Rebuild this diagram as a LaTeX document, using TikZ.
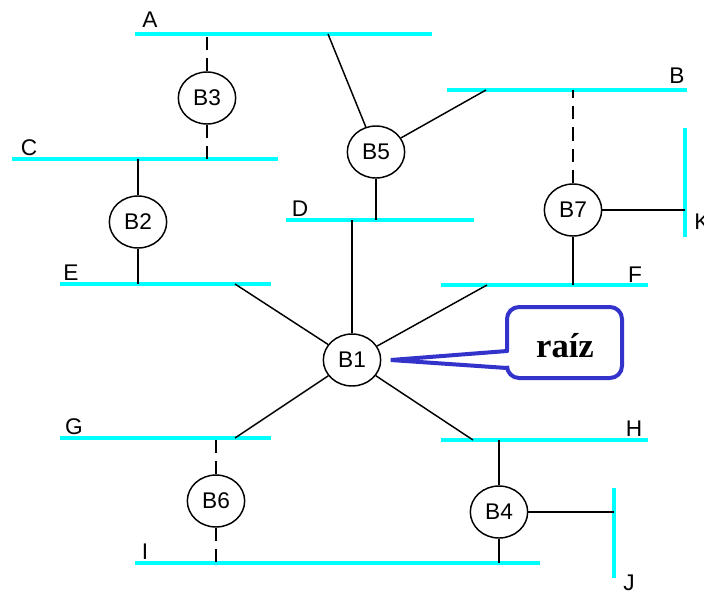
\documentclass[tikz,border=0pt]{standalone}
\usepackage{fontspec}
\setmainfont{Liberation Sans}
\newfontfamily\rootfont{Liberation Serif}
\usetikzlibrary{shapes.geometric}

\definecolor{lancyan}{RGB}{0,255,255}
\definecolor{tagblue}{RGB}{51,51,204}

\tikzset{
	lan/.style={draw=lancyan,line width=3.2pt},
	lanname/.style={anchor=base,inner sep=0pt,font=\fontsize{17}{19}\selectfont},
	bridge/.style={draw,ellipse,line width=1.1pt,minimum width=43pt,minimum height=39pt,
		inner sep=0pt,font=\fontsize{17}{19}\selectfont},
	port/.style={line width=1.1pt},
	blocked/.style={port,dash pattern=on 10pt off 6pt},
	tag/.style={draw=tagblue,line width=3pt,line cap=round},
}

\begin{document}
\begin{tikzpicture}[x=0.75pt,y=-0.75pt]
	\useasboundingbox (0,0) rectangle (704,593);

	% LAN segments
	\draw[lan] (135,34) -- (432,34);
	\node[lanname] (A) at (150,27) {A};
	\draw[lan] (447,90) -- (687,90);
	\node[lanname] (B) at (677,83) {B};
	\draw[lan] (12,159) -- (278,159);
	\node[lanname] (C) at (29,155) {C};
	\draw[lan] (286,220) -- (474,220);
	\node[lanname] (D) at (300,216) {D};
	\draw[lan] (60,284) -- (271,284);
	\node[lanname] (E) at (71,280) {E};
	\draw[lan] (441,285) -- (648,285);
	\node[lanname] (F) at (635,282) {F};
	\draw[lan] (60,438) -- (271,438);
	\node[lanname] (G) at (74,434) {G};
	\draw[lan] (441,440) -- (648,440);
	\node[lanname] (H) at (634,436) {H};
	\draw[lan] (135,563) -- (540,563);
	\node[lanname] (I) at (145,559) {I};
	\draw[lan] (614,488) -- (614,578);
	\node[lanname] (J) at (629,590) {J};
	\draw[lan] (685,128) -- (685,237);
	\node[lanname,anchor=base west] (K) at (694,229) {K};

	% bridges
	\node[bridge] (b1) at (352,360) {B1};
	\node[bridge] (b2) at (138,222) {B2};
	\node[bridge] (b3) at (207,98) {B3};
	\node[bridge] (b4) at (499,512) {B4};
	\node[bridge] (b5) at (376,152) {B5};
	\node[bridge] (b6) at (216,501) {B6};
	\node[bridge] (b7) at (573,210) {B7};

	% attachment points on the segments
	\coordinate (a3) at (207,34);
	\coordinate (a5) at (328,34);
	\coordinate (b5p) at (486,90);
	\coordinate (b7p) at (573,90);
	\coordinate (c2) at (138,159);
	\coordinate (c3) at (207,159);
	\coordinate (d1) at (352,220);
	\coordinate (d5) at (376,220);
	\coordinate (e1) at (235,284);
	\coordinate (e2) at (138,284);
	\coordinate (f1) at (487,285);
	\coordinate (f7) at (573,285);
	\coordinate (g1) at (235,438);
	\coordinate (g6) at (216,438);
	\coordinate (h1) at (473,440);
	\coordinate (h4) at (499,440);
	\coordinate (i4) at (499,563);
	\coordinate (i6) at (216,563);
	\coordinate (j4) at (614,512);
	\coordinate (k7) at (685,210);

	% ports
	\draw[port] (b1) -- (d1);
	\draw[port] (b1) -- (e1);
	\draw[port] (b1) -- (f1);
	\draw[port] (b1) -- (g1);
	\draw[port] (b1) -- (h1);
	\draw[port] (b2) -- (c2);
	\draw[port] (b2) -- (e2);
	\draw[blocked] (b3) -- (a3);
	\draw[blocked] (b3) -- (c3);
	\draw[port] (b4) -- (h4);
	\draw[port] (b4) -- (i4);
	\draw[port] (b4) -- (j4);
	\draw[port] (b5) -- (a5);
	\draw[port] (b5) -- (b5p);
	\draw[port] (b5) -- (d5);
	\draw[blocked] (b6) -- (g6);
	\draw[blocked] (b6) -- (i6);
	\draw[blocked] (b7) -- (b7p);
	\draw[port] (b7) -- (f7);
	\draw[port] (b7) -- (k7);

	% root tag
	\node[anchor=base,inner sep=0pt,font=\rootfont\bfseries\fontsize{26}{30}\selectfont]
		(root) at (565,357) {raíz};
	\draw[tag,rounded corners=9pt] (507,351) -- (507,307) -- (622,307) -- (622,378)
		-- (507,378) -- (507,368);
	\draw[tag] (507,351) -- ([xshift=7pt]b1.east) -- (507,368);
\end{tikzpicture}
\end{document}
